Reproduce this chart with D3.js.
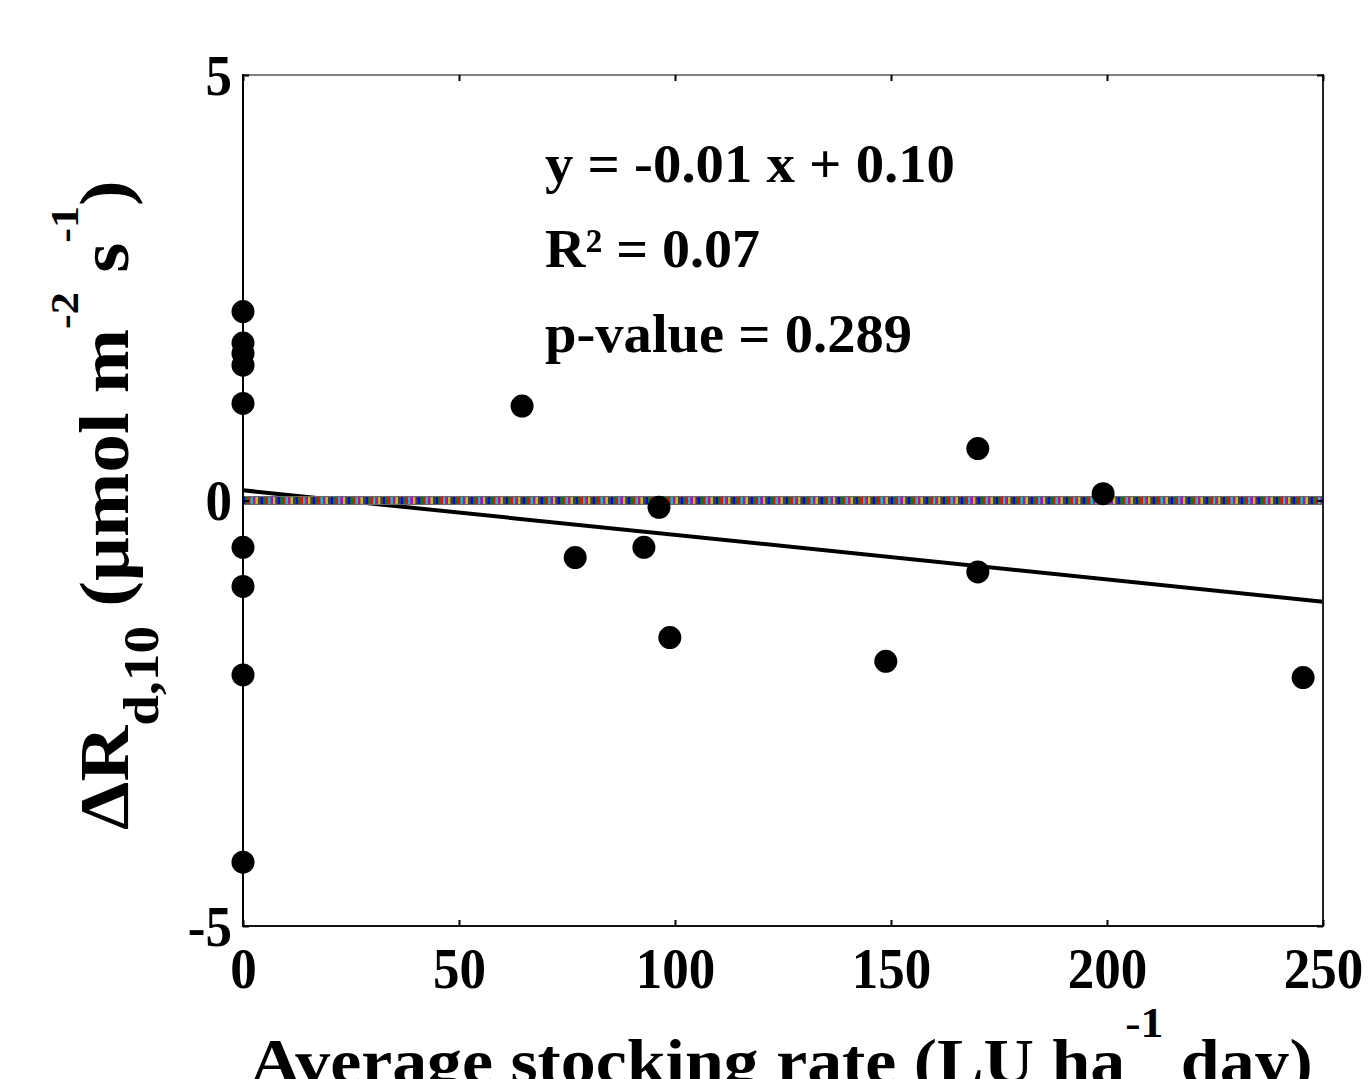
<!DOCTYPE html>
<html><head><meta charset="utf-8">
<script src="https://cdn.jsdelivr.net/npm/d3@7"></script>
<style>html,body{margin:0;padding:0;background:#fff;overflow:hidden}</style>
</head><body>
<svg id="c" width="1368" height="1079"></svg>
<script>
const xTicks = [0, 50, 100, 150, 200, 250];
const yTicks = [-5, 0, 5];
const stockingRate = [0, 0, 0, 0, 0, 0, 0, 0, 0, 64.6, 76.9, 92.8, 96.3, 98.8, 148.8, 170.1, 170.1, 199.1, 245.4];
const deltaRd10 = [2.22, 1.85, 1.73, 1.59, 1.14, -0.55, -1.01, -2.05, -4.25, 1.11, -0.67, -0.55, -0.08, -1.61, -1.89, 0.61, -0.84, 0.08, -2.08];
const fitX = [0, 250];
const fitY = [0.12, -1.19];
const fitLabels = ["y = -0.01 x + 0.10", "R\u00B2 = 0.07", "p-value = 0.289"];
const zeroLineColors = ["#0000ff", "#008000", "#ff0000", "#00bfbf", "#bf00bf", "#bfbf00", "#404040"];

const svg = d3.select("#c");
const FONT = "'Liberation Serif','Times New Roman',serif";
const x = d3.scaleLinear().domain([0, 250]).range([243, 1323]);
const y = d3.scaleLinear().domain([-5, 5]).range([926, 75]);

// regression line
svg.append("line")
  .attr("x1", x(fitX[0])).attr("y1", y(fitY[0]))
  .attr("x2", x(fitX[1])).attr("y2", y(fitY[1]))
  .attr("stroke", "#000").attr("stroke-width", 4);

// zero reference line (multicoloured dotted)
const zl = svg.append("g");
zl.append("line").attr("x1", x(0)).attr("x2", x(250)).attr("y1", y(0)).attr("y2", y(0))
  .attr("stroke", "#6a6a6a").attr("stroke-width", 9);
zeroLineColors.forEach((c, i) => {
  zl.append("line").attr("x1", x(0)).attr("x2", x(250)).attr("y1", y(0)).attr("y2", y(0))
    .attr("stroke", c).attr("stroke-width", 7)
    .attr("stroke-dasharray", `2.5 ${2.5 * (zeroLineColors.length - 1)}`)
    .attr("stroke-dashoffset", -i * 2.5);
});

// points
svg.append("g").selectAll("circle").data(stockingRate.map((v, i) => [v, deltaRd10[i]]))
  .join("circle")
  .attr("cx", d => x(d[0])).attr("cy", d => y(d[1])).attr("r", 11.5)
  .attr("fill", "#000");

// frame
svg.append("line").attr("x1", 243).attr("x2", 1323).attr("y1", 75).attr("y2", 75).attr("stroke", "#808080").attr("stroke-width", 2);
svg.append("line").attr("x1", 1323).attr("x2", 1323).attr("y1", 74).attr("y2", 927).attr("stroke", "#222").attr("stroke-width", 2);
svg.append("line").attr("x1", 243).attr("x2", 1323).attr("y1", 926).attr("y2", 926).attr("stroke", "#111").attr("stroke-width", 2);
svg.append("line").attr("x1", 243).attr("x2", 243).attr("y1", 74).attr("y2", 927).attr("stroke", "#000").attr("stroke-width", 2);

// axes
const fmt = d => String(d);
const xAxis = svg.append("g").attr("transform", "translate(0,926)")
  .call(d3.axisBottom(x).tickValues(xTicks).tickFormat(fmt).tickSize(-6).tickPadding(22));
const xTop = svg.append("g").attr("transform", "translate(0,75)")
  .call(d3.axisTop(x).tickValues(xTicks).tickSize(-6).tickFormat(""));
const yAxis = svg.append("g").attr("transform", "translate(243,0)")
  .call(d3.axisLeft(y).tickValues(yTicks).tickFormat(fmt).tickSize(-6).tickPadding(11));
const yRight = svg.append("g").attr("transform", "translate(1323,0)")
  .call(d3.axisRight(y).tickValues(yTicks).tickSize(-6).tickFormat(""));
[xAxis, xTop, yAxis, yRight].forEach(g => {
  g.select(".domain").remove();
  g.selectAll(".tick line").attr("stroke", "#000").attr("stroke-width", 2);
});
[xAxis, yAxis].forEach(g => g.selectAll(".tick text")
  .attr("font-family", FONT).attr("font-weight", "bold").attr("font-size", 57).attr("fill", "#000"));
xAxis.selectAll(".tick text").attr("transform", "scale(0.93,1)");
yAxis.selectAll(".tick text").attr("dy", "0.34em").attr("transform", "scale(0.93,1)")
  .attr("x", -11 / 0.93);

// annotation
const annBase = [182, 267, 352];
const annWidth = [410, 215, 367];
fitLabels.forEach((t, i) => {
  svg.append("text").attr("x", 545).attr("y", annBase[i])
    .attr("font-family", FONT).attr("font-weight", "bold").attr("font-size", 55)
    .attr("textLength", annWidth[i]).attr("lengthAdjust", "spacingAndGlyphs")
    .text(t);
});

// x label
const xl = svg.append("g");
const xlt = xl.append("text").attr("font-family", FONT).attr("font-weight", "bold").attr("font-size", 64);
xlt.append("tspan").text("Average stocking rate (LU ha");
xlt.append("tspan").attr("font-size", 42).attr("dy", -46).text("-1");
xlt.append("tspan").attr("dy", 46).text(" day)");
{
  const w = xlt.node().getBBox().width;
  xl.attr("transform", `translate(250,1083) scale(${1063 / w},1)`);
}

// y label
const yl = svg.append("g");
const ylt = yl.append("text").attr("font-family", FONT).attr("font-weight", "bold").attr("font-size", 70);
ylt.append("tspan").text("\u0394R");
ylt.append("tspan").attr("font-size", 50).attr("dy", 30).text("d,10");
ylt.append("tspan").attr("dy", -30).text(" (\u03BCmol m");
ylt.append("tspan").attr("font-size", 40).attr("dy", -50).text("-2");
ylt.append("tspan").attr("dy", 50).text(" s");
ylt.append("tspan").attr("font-size", 40).attr("dy", -50).text("-1");
ylt.append("tspan").attr("dy", 50).text(")");
{
  const w = ylt.node().getBBox().width;
  yl.attr("transform", `translate(128,830) rotate(-90) scale(${650 / w},1)`);
}
</script>
</body></html>
